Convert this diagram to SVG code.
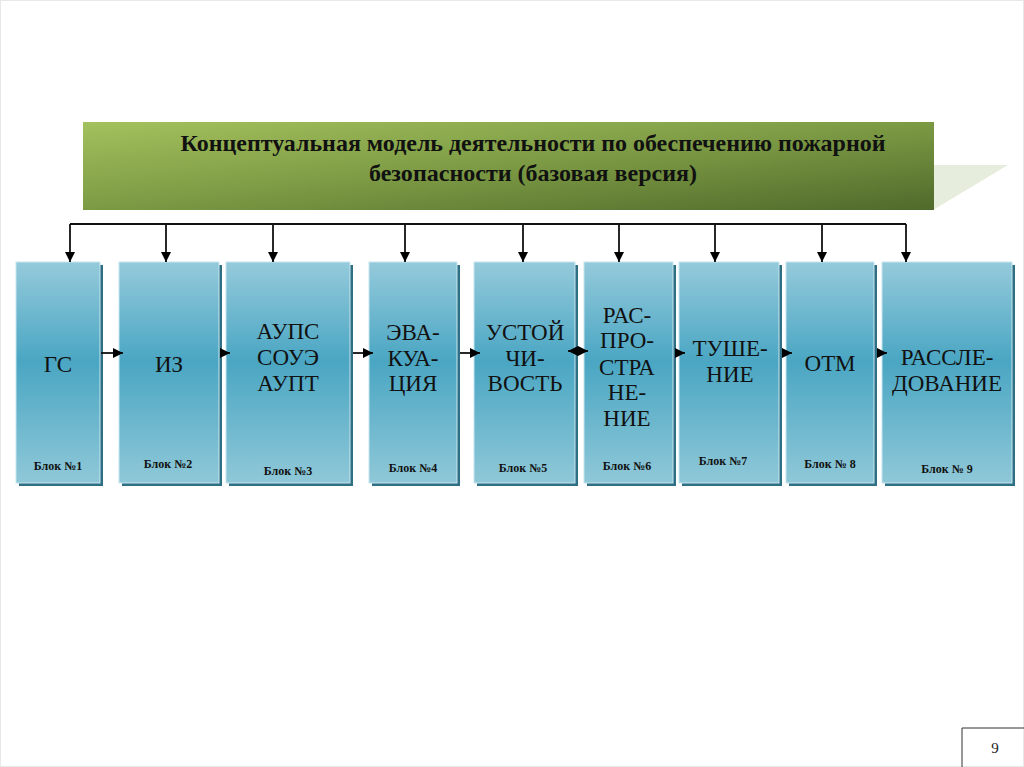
<svg xmlns="http://www.w3.org/2000/svg" width="1024" height="767" viewBox="0 0 1024 767">
<defs>
<linearGradient id="gTitle" x1="0" y1="0" x2="1" y2="1">
<stop offset="0" stop-color="#a3c15c"/>
<stop offset="0.5" stop-color="#7c9a44"/>
<stop offset="1" stop-color="#4f6a2b"/>
</linearGradient>
<linearGradient id="gBox" x1="0" y1="0" x2="0" y2="1">
<stop offset="0" stop-color="#95cadb"/>
<stop offset="0.45" stop-color="#4aa6c3"/>
<stop offset="1" stop-color="#8fc8d8"/>
</linearGradient>
<marker id="ah" viewBox="0 0 10 10" refX="10" refY="5" markerWidth="11" markerHeight="10" markerUnits="userSpaceOnUse" orient="auto-start-reverse">
<path d="M0,0 L10,5 L0,10 Z" fill="#000"/>
</marker>
</defs>
<style>
.box{fill:url(#gBox);stroke:#c6e6ef;stroke-width:1}
.sh{fill:#2f6f83}
.big{font-family:"Liberation Serif","Times New Roman",serif;font-size:23px;fill:#111;text-anchor:middle}
.blk{font-family:"Liberation Serif","Times New Roman",serif;font-size:12px;font-weight:bold;fill:#111;text-anchor:middle}
.ttl{font-family:"Liberation Serif","Times New Roman",serif;font-size:23px;font-weight:bold;fill:#111;text-anchor:middle}
.ln{stroke:#111;stroke-width:1.8;fill:none}
</style>
<rect x="0.5" y="0.5" width="1023" height="766" fill="#fff" stroke="#e8e8e8"/>
<g id="title">
<polygon points="933,165 1008,165 933,210" fill="#e7eddc"/>
<rect x="83" y="122" width="851" height="88" fill="url(#gTitle)"/>
<text class="ttl" x="533" y="151" textLength="705" lengthAdjust="spacingAndGlyphs">Концептуальная модель деятельности по обеспечению пожарной</text>
<text class="ttl" x="533" y="181" textLength="328" lengthAdjust="spacingAndGlyphs">безопасности (базовая версия)</text>
</g>
<g id="block1">
<rect class="sh" x="19" y="265" width="84" height="221"/>
<rect class="box" x="16" y="262" width="84" height="221"/>
<text class="big" x="58" y="372">ГС</text>
<text class="blk" x="58" y="470">Блок №1</text>
</g>
<g id="block2">
<rect class="sh" x="122" y="265" width="100" height="221"/>
<rect class="box" x="119" y="262" width="100" height="221"/>
<text class="big" x="169" y="372">ИЗ</text>
<text class="blk" x="168" y="468">Блок №2</text>
</g>
<g id="block3">
<rect class="sh" x="229" y="265" width="124" height="221"/>
<rect class="box" x="226" y="262" width="124" height="221"/>
<text class="big" x="288" y="339">АУПС</text>
<text class="big" x="288" y="365">СОУЭ</text>
<text class="big" x="288" y="391">АУПТ</text>
<text class="blk" x="288" y="475">Блок №3</text>
</g>
<g id="block4">
<rect class="sh" x="372" y="265" width="88" height="221"/>
<rect class="box" x="369" y="262" width="88" height="221"/>
<text class="big" x="413" y="340">ЭВА-</text>
<text class="big" x="413" y="366">КУА-</text>
<text class="big" x="413" y="391">ЦИЯ</text>
<text class="blk" x="413" y="472">Блок №4</text>
</g>
<g id="block5">
<rect class="sh" x="477" y="265" width="101" height="221"/>
<rect class="box" x="474" y="262" width="101" height="221"/>
<text class="big" x="525" y="340">УСТОЙ</text>
<text class="big" x="525" y="366">ЧИ-</text>
<text class="big" x="525" y="391">ВОСТЬ</text>
<text class="blk" x="523" y="472">Блок №5</text>
</g>
<g id="block6">
<rect class="sh" x="587" y="265" width="89" height="221"/>
<rect class="box" x="584" y="262" width="89" height="221"/>
<text class="big" x="627" y="323">РАС-</text>
<text class="big" x="627" y="348">ПРО-</text>
<text class="big" x="627" y="375">СТРА</text>
<text class="big" x="627" y="400">НЕ-</text>
<text class="big" x="627" y="426">НИЕ</text>
<text class="blk" x="627" y="470">Блок №6</text>
</g>
<g id="block7">
<rect class="sh" x="682" y="265" width="100" height="221"/>
<rect class="box" x="679" y="262" width="100" height="221"/>
<text class="big" x="730" y="356">ТУШЕ-</text>
<text class="big" x="730" y="382">НИЕ</text>
<text class="blk" x="723" y="465">Блок №7</text>
</g>
<g id="block8">
<rect class="sh" x="789" y="265" width="88" height="221"/>
<rect class="box" x="786" y="262" width="88" height="221"/>
<text class="big" x="830" y="371">ОТМ</text>
<text class="blk" x="830" y="468">Блок № 8</text>
</g>
<g id="block9">
<rect class="sh" x="885" y="265" width="130" height="221"/>
<rect class="box" x="882" y="262" width="130" height="221"/>
<text class="big" x="947" y="365">РАССЛЕ-</text>
<text class="big" x="947" y="391">ДОВАНИЕ</text>
<text class="blk" x="947" y="473">Блок № 9</text>
</g>
<g id="connectors">
<polyline class="ln" points="70,224 906,224"/>
<line class="ln" x1="70" y1="224" x2="70" y2="262" marker-end="url(#ah)"/>
<line class="ln" x1="166" y1="224" x2="166" y2="262" marker-end="url(#ah)"/>
<line class="ln" x1="273" y1="224" x2="273" y2="262" marker-end="url(#ah)"/>
<line class="ln" x1="405" y1="224" x2="405" y2="262" marker-end="url(#ah)"/>
<line class="ln" x1="523" y1="224" x2="523" y2="262" marker-end="url(#ah)"/>
<line class="ln" x1="619" y1="224" x2="619" y2="262" marker-end="url(#ah)"/>
<line class="ln" x1="715" y1="224" x2="715" y2="262" marker-end="url(#ah)"/>
<line class="ln" x1="822" y1="224" x2="822" y2="262" marker-end="url(#ah)"/>
<line class="ln" x1="906" y1="224" x2="906" y2="262" marker-end="url(#ah)"/>
<line class="ln" x1="101" y1="353" x2="123" y2="353" marker-end="url(#ah)"/>
<line class="ln" x1="220" y1="353" x2="230" y2="353" marker-end="url(#ah)"/>
<line class="ln" x1="353" y1="353" x2="373" y2="353" marker-end="url(#ah)"/>
<line class="ln" x1="460" y1="353" x2="480" y2="353" marker-end="url(#ah)"/>
<line class="ln" x1="568" y1="351" x2="588" y2="351" marker-start="url(#ah)" marker-end="url(#ah)"/>
<line class="ln" x1="676" y1="353" x2="685" y2="353" marker-end="url(#ah)"/>
<line class="ln" x1="782" y1="353" x2="792" y2="353" marker-end="url(#ah)"/>
<line class="ln" x1="877" y1="353" x2="887" y2="353" marker-end="url(#ah)"/>
</g>
<g id="pagenum">
<polyline points="962,767 962,728 1024,728" fill="none" stroke="#333" stroke-width="1"/>
<text x="995" y="753" font-family="Liberation Serif, serif" font-size="15" fill="#222" text-anchor="middle">9</text>
</g>
</svg>
